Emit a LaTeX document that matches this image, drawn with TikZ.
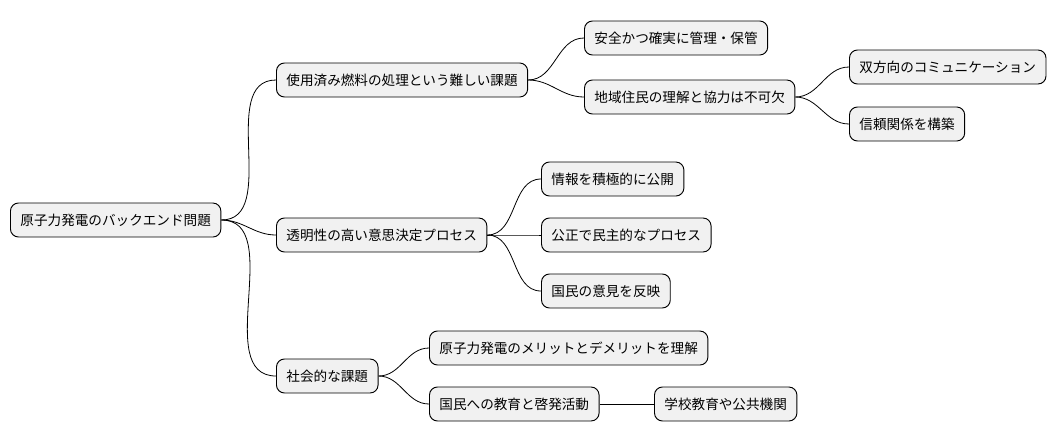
\documentclass[tikz,border=0pt]{standalone}
\usepackage{fontspec}
\setmainfont{Noto Sans CJK JP}
\usepackage{xcolor}
\usetikzlibrary{positioning}

\definecolor{boxfill}{HTML}{F1F1F1}

\tikzset{
  topic/.style={draw=black, fill=boxfill, rounded corners=6pt, line width=0.7pt,
    font=\fontsize{10.2pt}{12pt}\selectfont, inner xsep=7.5pt, inner ysep=0pt,
    minimum height=25.5pt, anchor=west},
  branch/.style={line width=0.6pt, out=0, in=180}
}

\begin{document}
\begin{tikzpicture}[x=0.75pt, y=-0.75pt]
\useasboundingbox (0,0) rectangle (1062,443);

% Root
\node[topic] (root) at (10,220) {原子力発電のバックエンド問題};

% First level
\node[topic] (fuel) at (276,80) {使用済み燃料の処理という難しい課題};
\node[topic] (open) at (276,235) {透明性の高い意思決定プロセス};
\node[topic] (social) at (276,376) {社会的な課題};

% Spent fuel
\node[topic] (store) at (584,38) {安全かつ確実に管理・保管};
\node[topic] (local) at (584,97) {地域住民の理解と協力は不可欠};
\node[topic] (talk) at (849,67) {双方向のコミュニケーション};
\node[topic] (trust) at (849,124) {信頼関係を構築};

% Transparency
\node[topic] (info) at (541,179) {情報を積極的に公開};
\node[topic] (fair) at (541,235) {公正で民主的なプロセス};
\node[topic] (voice) at (541,291) {国民の意見を反映};

% Social
\node[topic] (merit) at (429,348) {原子力発電のメリットとデメリットを理解};
\node[topic] (edu) at (429,404) {国民への教育と啓発活動};
\node[topic] (school) at (654,404) {学校教育や公共機関};

% Connectors
\foreach \p/\c in {root/fuel, root/open, root/social,
                   fuel/store, fuel/local, local/talk, local/trust,
                   open/info, open/fair, open/voice,
                   social/merit, social/edu}
  \draw[branch] (\p.east) to (\c.west);
\draw[line width=0.6pt] (edu.east) -- (school.west);

\end{tikzpicture}
\end{document}
